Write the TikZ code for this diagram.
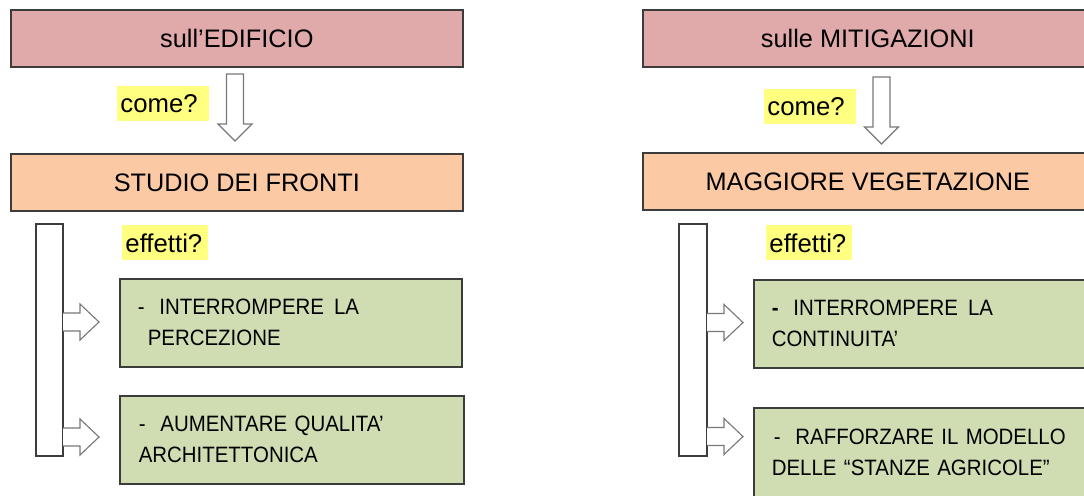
\documentclass[tikz,border=0pt]{standalone}
\usepackage{fontspec}
\setmainfont{Liberation Sans}
\newfontfamily\narrowfont[FakeStretch=0.92]{Liberation Sans}
\usepackage{tikz}
\usetikzlibrary{positioning,calc}

\definecolor{topfill}{RGB}{224,169,170}
\definecolor{midfill}{RGB}{251,202,164}
\definecolor{effill}{RGB}{208,220,177}
\definecolor{hlfill}{RGB}{255,255,128}
\definecolor{boxline}{RGB}{60,60,60}
\definecolor{arrline}{RGB}{120,120,120}

\tikzset{
  titlebox/.style={draw=boxline, line width=1.1pt, anchor=north west, inner sep=0pt,
    minimum width=11.3cm, minimum height=1.425cm, font=\fontsize{18}{20}\selectfont},
  effbox/.style={draw=boxline, line width=1.1pt, fill=effill, anchor=north west,
    inner xsep=0.45cm, inner ysep=0pt, minimum width=8.55cm, minimum height=2.2cm,
    text width=7.65cm, align=left, font=\narrowfont\fontsize{15.8}{22}\selectfont},
  hilite/.style={fill=hlfill, anchor=north west, inner xsep=0.08cm, inner ysep=0pt,
    minimum height=0.88cm, align=left, font=\fontsize{18.3}{20}\selectfont},
  blockarrow/.style={draw=arrline, line width=0.8pt, fill=white},
  bracket/.style={draw=boxline, line width=1.1pt, fill=white}
}

% block arrows: #1 = x of shaft, #2 = y
\newcommand{\blockdown}[2]{%
  \draw[blockarrow] (#1-8.5,#2) -- ++(0,50) -- ++(-8.5,0) -- ++(17,17)
    -- ++(17,-17) -- ++(-8.5,0) -- ++(0,-50) -- cycle;}
\newcommand{\blockright}[2]{%
  \draw[blockarrow] (#1,#2-9) -- ++(17,0) -- ++(0,-9) -- ++(19,18)
    -- ++(-19,18) -- ++(0,-9) -- ++(-17,0);}

\begin{document}
\begin{tikzpicture}[x=0.025cm, y=-0.025cm]
  \useasboundingbox (0,0) rectangle (1084,495);
  \clip (0,0) rectangle (1084,495);

  % sull'EDIFICIO
  \node[titlebox, fill=topfill] (edificio) at (10,9) {sull’EDIFICIO};
  \blockdown{235}{74}
  \node[hilite, text width=2.14cm] (comeL) at (117,86) {come?};
  \node[titlebox, fill=midfill] (fronti) at (10,153) {STUDIO DEI FRONTI};

  \draw[bracket] (36,224) rectangle (63,456);
  \node[hilite, text width=1.99cm] (effettiL) at (122,225) {effetti?};
  \blockright{63}{322}
  \blockright{63}{437}
  \node[effbox] (percezione) at (119,278)
    {-\ \ INTERROMPERE\hspace{0.45em}LA\\\hspace*{0.25cm}PERCEZIONE};
  \node[effbox, minimum width=8.6cm] (qualita) at (119,395)
    {-\ \ AUMENTARE QUALITA’\\ARCHITETTONICA};

  % sulle MITIGAZIONI
  \node[titlebox, fill=topfill, minimum width=11.25cm] (mitigazioni) at (642,9) {sulle MITIGAZIONI};
  \blockdown{881.5}{77}
  \node[hilite, text width=2.14cm] (comeR) at (764,89) {come?};
  \node[titlebox, fill=midfill, minimum width=11.25cm] (vegetazione) at (642,152) {MAGGIORE VEGETAZIONE};

  \draw[bracket] (679,224) rectangle (707,456);
  \node[hilite, text width=1.99cm] (effettiR) at (766,225) {effetti?};
  \blockright{707}{322.5}
  \blockright{707}{436.5}
  \node[effbox] (continuita) at (753,279)
    {\textbf{-}\ \ INTERROMPERE\hspace{0.45em}LA\\CONTINUITA’};
  \node[effbox, minimum height=2.25cm] (stanze) at (753,407)
    {\hspace*{0.05cm}-\ \ RAFFORZARE IL MODELLO\\DELLE “STANZE AGRICOLE”};
\end{tikzpicture}
\end{document}
